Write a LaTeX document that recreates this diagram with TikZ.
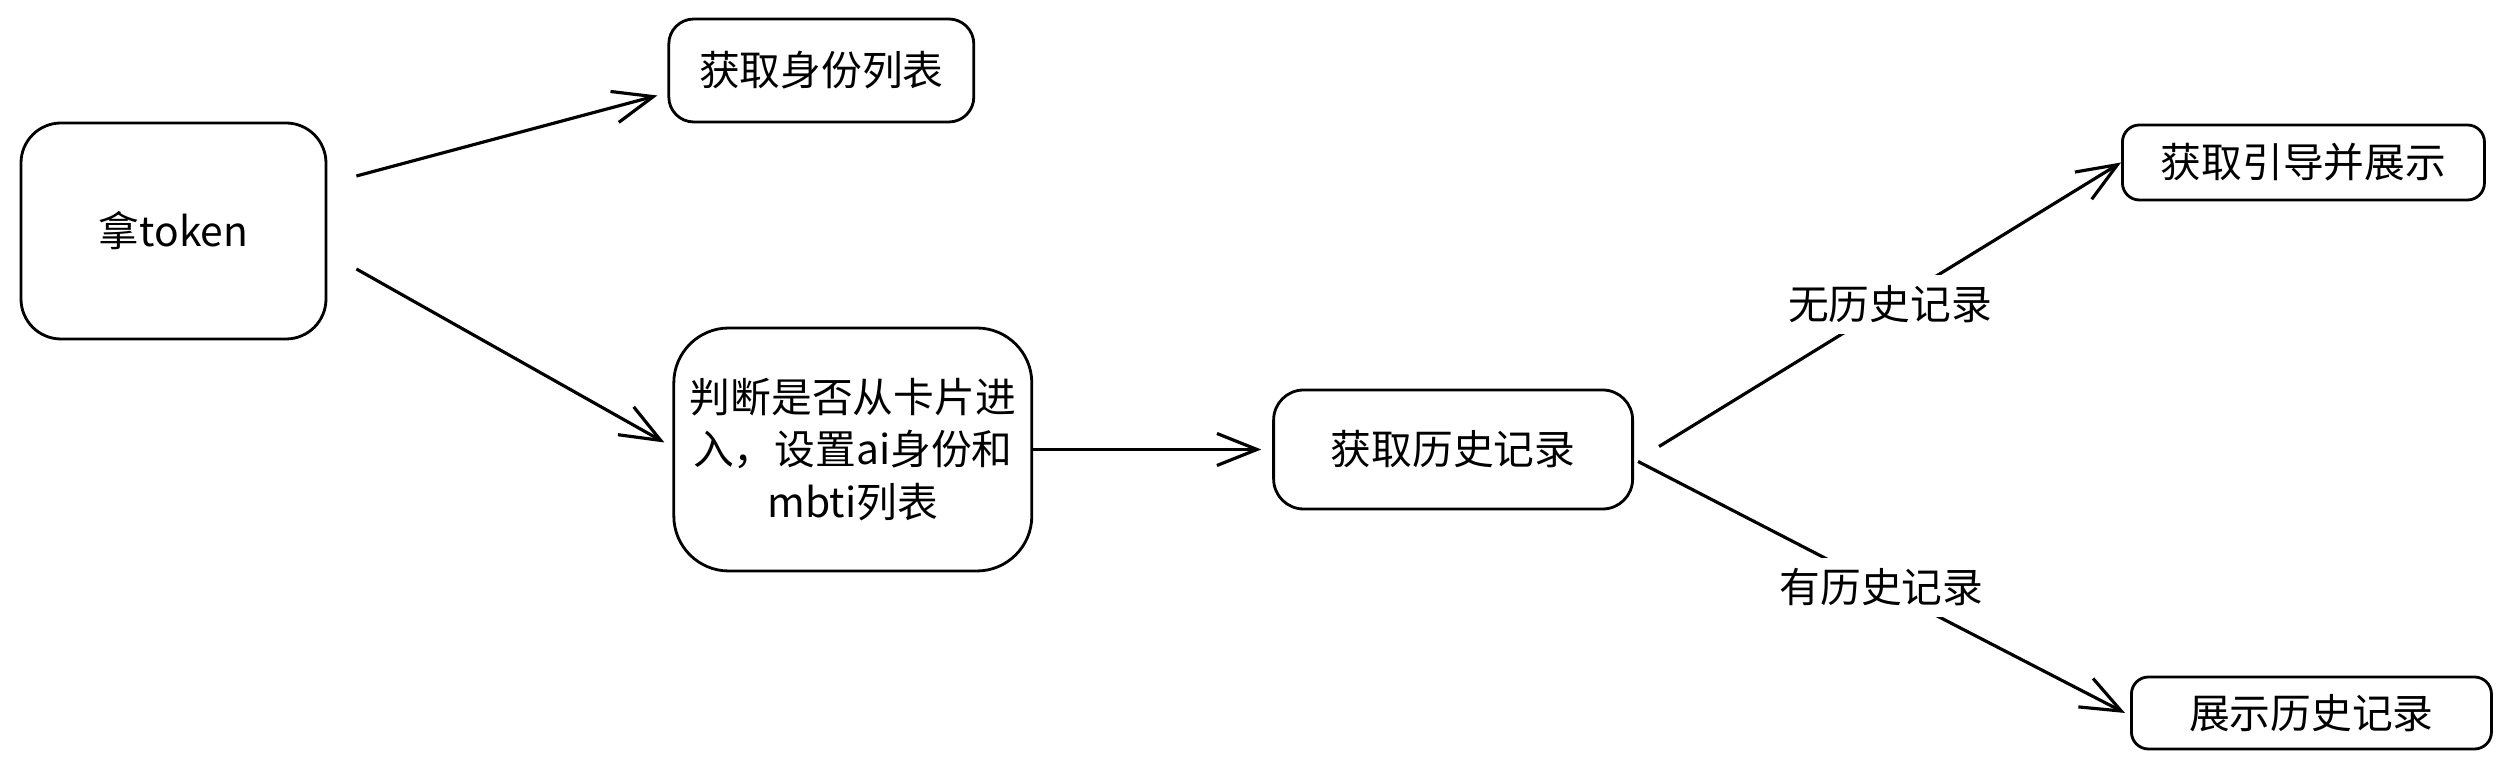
\documentclass[tikz,border=0pt]{standalone}
\usepackage{fontspec}
\setmainfont{Noto Sans CJK SC}
\usetikzlibrary{arrows.meta,positioning}

\begin{document}
\begin{tikzpicture}[>={Straight Barb[length=4mm,width=3.2mm]}, line width=0.8pt,
  font=\fontsize{11.6}{15}\selectfont]
\tikzstyle{box}=[draw=black,fill=white,text=black,inner sep=2pt]
\tikzstyle{arr}=[->,line width=0.9pt]
\tikzstyle{lbl}=[fill=white,inner sep=3pt]
\useasboundingbox (0,0) rectangle (25.08,7.71);
\node[box,rounded corners=0.4cm,minimum width=3.05cm,minimum height=2.16cm] (token) at (1.735,5.40) {拿token};
\node[box,rounded corners=0.25cm,minimum width=3.05cm,minimum height=1.03cm] (roles) [right=3.40cm of token,yshift=1.605cm] {获取身份列表};
\node[box,rounded corners=0.55cm,minimum width=3.58cm,minimum height=2.43cm,align=center] (judge) [right=3.45cm of token,yshift=-2.185cm] {判断是否从卡片进\\入，设置ai身份和\\mbti列表};
\node[box,rounded corners=0.3cm,minimum width=3.59cm,minimum height=1.19cm] (history) [right=2.39cm of judge] {获取历史记录};
\node[box,rounded corners=0.17cm,minimum width=3.62cm,minimum height=0.75cm] (guide) [right=4.87cm of history,yshift=2.87cm] {获取引导并展示};
\node[box,rounded corners=0.17cm,minimum width=3.60cm,minimum height=0.72cm] (show) [right=4.96cm of history,yshift=-2.635cm] {展示历史记录};
% connectors
\draw[arr] ([xshift=2.9mm,yshift=5.5mm]token.east) -- ([xshift=-1mm,yshift=-2.5mm]roles.west);
\draw[arr] ([xshift=2.9mm,yshift=-3.8mm]token.east) -- ([xshift=-0.8mm,yshift=0.7mm]judge.west);
\draw[arr] (judge.east) -- ([xshift=-1.1mm]history.west);
\draw[arr] ([xshift=2.5mm,yshift=0.3mm]history.east) -- node[lbl]{无历史记录} (guide.west);
\draw[arr] ([xshift=0.4mm,yshift=-1.2mm]history.east) -- node[lbl]{有历史记录} ([xshift=-0.5mm]show.west);
\end{tikzpicture}
\end{document}
